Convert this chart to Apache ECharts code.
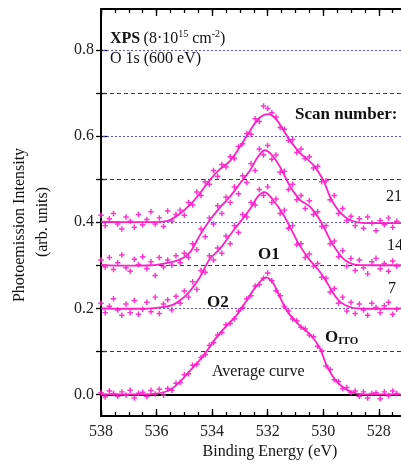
<!DOCTYPE html>
<html>
<head>
<meta charset="utf-8">
<script src="https://cdn.jsdelivr.net/npm/echarts@6/dist/echarts.min.js"></script>
<style>
  html, body { margin: 0; padding: 0; background: #fff; }
  #chart { width: 401px; height: 467px; }
</style>
</head>
<body>
<div id="chart"></div>
<script>
  // binding energies of the measured points (eV)
  const energies = [538.0, 537.85, 537.7, 537.55, 537.4, 537.25, 537.1, 536.95, 536.8, 536.65,
    536.5, 536.35, 536.2, 536.05, 535.9, 535.75, 535.6, 535.45, 535.3, 535.15,
    535.0, 534.85, 534.7, 534.55, 534.4, 534.25, 534.1, 533.95, 533.8, 533.65,
    533.5, 533.35, 533.2, 533.05, 532.9, 532.75, 532.6, 532.45, 532.3, 532.15,
    532.0, 531.85, 531.7, 531.55, 531.4, 531.25, 531.1, 530.95, 530.8, 530.65,
    530.5, 530.35, 530.2, 530.05, 529.9, 529.75, 529.6, 529.45, 529.3, 529.15,
    529.0, 528.85, 528.7, 528.55, 528.4, 528.25, 528.1, 527.95, 527.8, 527.65,
    527.5, 527.35];

  // measured intensities (crosses)
  const avgPoints = [0.004, -0.006, 0.008, 0.002, -0.004, 0.006, -0.002, 0.010, -0.008, 0.003,
    0.005, -0.005, 0.009, 0.001, 0.012, -0.002, 0.014, 0.010, 0.026, 0.028,
    0.046, 0.048, 0.068, 0.070, 0.086, 0.092, 0.114, 0.120, 0.138, 0.144,
    0.162, 0.165, 0.176, 0.194, 0.202, 0.222, 0.229, 0.252, 0.255, 0.270,
    0.282, 0.264, 0.241, 0.229, 0.204, 0.194, 0.175, 0.171, 0.156, 0.152,
    0.138, 0.134, 0.112, 0.101, 0.066, 0.058, 0.034, 0.030, 0.014, 0.016,
    0.004, 0.008, -0.004, 0.006, -0.008, 0.002, 0.004, -0.010, 0.006, -0.003,
    0.008, 0.002];
  const scan7Points = [0.212, 0.190, 0.205, 0.222, 0.196, 0.184, 0.210, 0.190, 0.218, 0.186,
    0.198, 0.214, 0.192, 0.226, 0.188, 0.210, 0.220, 0.196, 0.228, 0.212,
    0.240, 0.226, 0.262, 0.244, 0.288, 0.284, 0.322, 0.312, 0.340, 0.328,
    0.368, 0.350, 0.392, 0.376, 0.418, 0.412, 0.446, 0.440, 0.476, 0.462,
    0.482, 0.446, 0.454, 0.420, 0.428, 0.386, 0.392, 0.348, 0.350, 0.318,
    0.326, 0.298, 0.304, 0.272, 0.270, 0.238, 0.246, 0.212, 0.226, 0.194,
    0.214, 0.188, 0.210, 0.196, 0.184, 0.212, 0.202, 0.190, 0.206, 0.214,
    0.186, 0.198];
  const scan14Points = [0.312, 0.296, 0.318, 0.290, 0.306, 0.324, 0.294, 0.286, 0.314, 0.302,
    0.320, 0.292, 0.308, 0.276, 0.318, 0.296, 0.312, 0.300, 0.322, 0.306,
    0.328, 0.318, 0.350, 0.336, 0.384, 0.366, 0.410, 0.396, 0.438, 0.420,
    0.458, 0.446, 0.482, 0.466, 0.508, 0.492, 0.536, 0.520, 0.570, 0.556,
    0.578, 0.546, 0.556, 0.516, 0.518, 0.476, 0.488, 0.452, 0.462, 0.432,
    0.450, 0.418, 0.424, 0.390, 0.392, 0.350, 0.356, 0.320, 0.334, 0.298,
    0.316, 0.288, 0.312, 0.294, 0.280, 0.308, 0.316, 0.292, 0.304, 0.286,
    0.310, 0.298];
  const scan21Points = [0.416, 0.392, 0.408, 0.420, 0.396, 0.384, 0.412, 0.402, 0.388, 0.418,
    0.394, 0.406, 0.424, 0.396, 0.410, 0.390, 0.426, 0.402, 0.418, 0.428,
    0.416, 0.446, 0.440, 0.470, 0.462, 0.494, 0.488, 0.520, 0.506, 0.534,
    0.528, 0.552, 0.548, 0.576, 0.582, 0.606, 0.604, 0.640, 0.634, 0.670,
    0.664, 0.654, 0.644, 0.620, 0.616, 0.590, 0.592, 0.562, 0.570, 0.548,
    0.552, 0.526, 0.530, 0.494, 0.496, 0.452, 0.462, 0.420, 0.432, 0.404,
    0.414, 0.392, 0.408, 0.386, 0.412, 0.398, 0.380, 0.404, 0.394, 0.410,
    0.388, 0.402];

  // fitted curves [energy, intensity]
  const avgCurve = [[538, 0], [537, 0], [536.2, 0.001], [535.6, 0.008], [535.2, 0.027], [534.8, 0.055],
    [534.44, 0.08], [534.2, 0.1], [533.9, 0.128], [533.5, 0.158], [533.12, 0.184], [532.76, 0.218],
    [532.4, 0.252], [532.05, 0.272], [531.8, 0.258], [531.56, 0.226], [531.26, 0.19], [530.84, 0.16],
    [530.45, 0.138], [530.12, 0.107], [529.88, 0.068], [529.58, 0.035], [529.22, 0.013], [528.8, 0.002],
    [528.2, 0], [527.2, 0]];
  const scan7Curve = [[538, 0.2], [537, 0.199], [536.2, 0.2], [535.5, 0.206], [535.16, 0.218], [534.8, 0.24],
    [534.44, 0.272], [534.08, 0.315], [533.72, 0.338], [533.24, 0.38], [532.64, 0.43], [532.35, 0.46],
    [532.12, 0.47], [531.85, 0.455], [531.44, 0.418], [531.08, 0.374], [530.84, 0.345], [530.48, 0.312],
    [530.12, 0.285], [529.82, 0.255], [529.52, 0.224], [529.2, 0.207], [528.8, 0.2], [528, 0.199], [527.2, 0.2]];
  const scan14Curve = [[538, 0.301], [537, 0.299], [536.2, 0.3], [535.64, 0.305], [535.16, 0.313], [534.8, 0.33],
    [534.44, 0.37], [534.08, 0.405], [533.72, 0.434], [533.36, 0.459], [533.0, 0.49], [532.64, 0.52],
    [532.35, 0.552], [532.1, 0.567], [531.85, 0.556], [531.56, 0.529], [531.2, 0.484], [530.84, 0.452],
    [530.48, 0.436], [530.12, 0.405], [529.76, 0.36], [529.5, 0.333], [529.2, 0.311], [528.8, 0.301],
    [528, 0.3], [527.2, 0.3]];
  const scan21Curve = [[538, 0.401], [537, 0.4], [536.2, 0.4], [535.6, 0.403], [535.2, 0.418], [534.8, 0.44],
    [534.44, 0.467], [534.08, 0.498], [533.72, 0.523], [533.36, 0.542], [533.0, 0.575], [532.64, 0.612],
    [532.3, 0.642], [531.98, 0.651], [531.75, 0.643], [531.56, 0.627], [531.2, 0.59], [530.84, 0.561],
    [530.36, 0.533], [530.0, 0.498], [529.76, 0.46], [529.46, 0.428], [529.04, 0.405], [528.44, 0.398],
    [527.2, 0.398]];

  // axes
  const xLabelTicks = [528, 530, 532, 534, 536, 538];
  const xHalfTicks = [527.5, 528, 528.5, 529, 529.5, 530, 530.5, 531, 531.5, 532, 532.5, 533, 533.5,
    534, 534.5, 535, 535.5, 536, 536.5, 537, 537.5, 538];
  const yTicks = [0, 0.1, 0.2, 0.3, 0.4, 0.5, 0.6, 0.7, 0.8];
  const yLabelTicks = [0, 0.2, 0.4, 0.6, 0.8];
  const gridMajor = [0.2, 0.4, 0.6, 0.8];
  const gridMinor = [0.1, 0.3, 0.5, 0.7];

  const serif = '"Liberation Serif", "DejaVu Serif", serif';
  const magenta = '#ff1ec8';
  const plus = 'path://M-0.8,-3H0.8V-0.8H3V0.8H0.8V3H-0.8V0.8H-3V-0.8H-0.8Z';
  const X_MIN = 527.2, X_MAX = 538, Y_MIN = -0.05, Y_MAX = 0.895;

  function pts(values) {
    return energies.map((e, i) => [e, values[i]]);
  }

  function xAxisDef(position, ticks, len, withLabels) {
    return {
      type: 'value', position: position, min: X_MIN, max: X_MAX, inverse: true,
      axisLine: { show: withLabels, onZero: false, lineStyle: { color: '#000', width: 2 } },
      axisTick: { show: true, inside: true, length: len, customValues: ticks, lineStyle: { color: '#000', width: 1.3 } },
      axisLabel: withLabels && position === 'bottom'
        ? { show: true, customValues: xLabelTicks, margin: 8, fontSize: 16, fontFamily: serif, color: '#222' }
        : { show: false },
      splitLine: { show: false }
    };
  }

  function yAxisDef(inside, len, withLabels) {
    return {
      type: 'value', position: 'left', min: Y_MIN, max: Y_MAX,
      axisLine: { show: withLabels, onZero: false, lineStyle: { color: '#000', width: 2 } },
      axisTick: { show: true, inside: inside, length: len, customValues: yTicks, lineStyle: { color: '#000', width: 1.3 } },
      axisLabel: withLabels
        ? { show: true, customValues: yLabelTicks, margin: 7, fontSize: 16, fontFamily: serif, color: '#222',
            formatter: v => v.toFixed(1) }
        : { show: false },
      splitLine: { show: false }
    };
  }

  function curve(data) {
    return {
      type: 'line', data: data, smooth: 0.35, showSymbol: false, z: 3,
      lineStyle: { color: magenta, width: 1.8 }
    };
  }

  function crosses(values) {
    return {
      type: 'scatter', data: pts(values), symbol: plus, symbolSize: 5.5, z: 4,
      itemStyle: { color: magenta, opacity: 0.9 }
    };
  }

  function label(text, left, top, size, bold) {
    return {
      type: 'text', left: left, top: top,
      style: { text: text, fontSize: size, fontFamily: serif, fontWeight: bold ? 'bold' : 'normal', fill: '#111' }
    };
  }

  const chart = echarts.init(document.getElementById('chart'));
  chart.setOption({
    animation: false,
    backgroundColor: '#fff',
    grid: { left: 101, top: 9, right: 0, bottom: 51 },
    xAxis: [
      xAxisDef('bottom', xLabelTicks, 7, true),
      xAxisDef('bottom', xHalfTicks, 4, false),
      xAxisDef('top', xLabelTicks, 7, true),
      xAxisDef('top', xHalfTicks, 4, false)
    ],
    yAxis: [
      yAxisDef(false, 5, true),
      yAxisDef(true, 6, false)
    ],
    series: [
      {
        type: 'line', data: [], z: 1,
        markLine: {
          silent: true, symbol: 'none', z: 1, label: { show: false },
          data: gridMajor.map(v => ({ yAxis: v, lineStyle: { color: '#5050f0', width: 1, type: [2, 2] } }))
            .concat(gridMinor.map(v => ({ yAxis: v, lineStyle: { color: '#2c2cb0', width: 1, type: [4, 3] } })))
            .concat([{ yAxis: 0, lineStyle: { color: '#000', width: 2, type: 'solid' } }])
        }
      },
      curve(avgCurve), curve(scan7Curve), curve(scan14Curve), curve(scan21Curve),
      crosses(avgPoints), crosses(scan7Points), crosses(scan14Points), crosses(scan21Points)
    ],
    graphic: [
      {
        type: 'text', left: 110, top: 29,
        style: {
          text: '{b|XPS} {n|(8·10}{sup|15}{n| cm}{sup|-2}{n|)}',
          rich: {
            b: { fontSize: 16, fontWeight: 'bold', fontFamily: serif, fill: '#111' },
            n: { fontSize: 16, fontFamily: serif, fill: '#111' },
            sup: { fontSize: 10, fontFamily: serif, fill: '#111', padding: [0, 0, 9, 0] }
          }
        }
      },
      label('O 1s (600 eV)', 110, 51, 16, false),
      label('Scan number:', 295, 106, 17, true),
      label('21', 386, 189, 16, false),
      label('14', 387, 238, 16, false),
      label('7', 388, 281, 16, false),
      label('O1', 258, 246, 17, true),
      label('O2', 207, 294, 17, true),
      {
        type: 'text', left: 325, top: 329,
        style: {
          text: '{b|O}{s|ITO}',
          rich: {
            b: { fontSize: 17, fontWeight: 'bold', fontFamily: serif, fill: '#111' },
            s: { fontSize: 11, fontWeight: 'bold', fontFamily: serif, fill: '#111', padding: [8, 0, 0, 0] }
          }
        }
      },
      label('Average curve', 212, 364, 16, false),
      {
        type: 'text', x: 270, y: 452,
        style: { text: 'Binding Energy (eV)', fontSize: 16, fontFamily: serif, fill: '#111', align: 'center', verticalAlign: 'middle' }
      },
      {
        type: 'text', x: 20, y: 225, rotation: Math.PI / 2,
        style: { text: 'Photoemission Intensity', fontSize: 16, fontFamily: serif, fill: '#111', align: 'center', verticalAlign: 'middle' }
      },
      {
        type: 'text', x: 43, y: 222, rotation: Math.PI / 2,
        style: { text: '(arb. units)', fontSize: 16, fontFamily: serif, fill: '#111', align: 'center', verticalAlign: 'middle' }
      }
    ]
  });
</script>
</body>
</html>
